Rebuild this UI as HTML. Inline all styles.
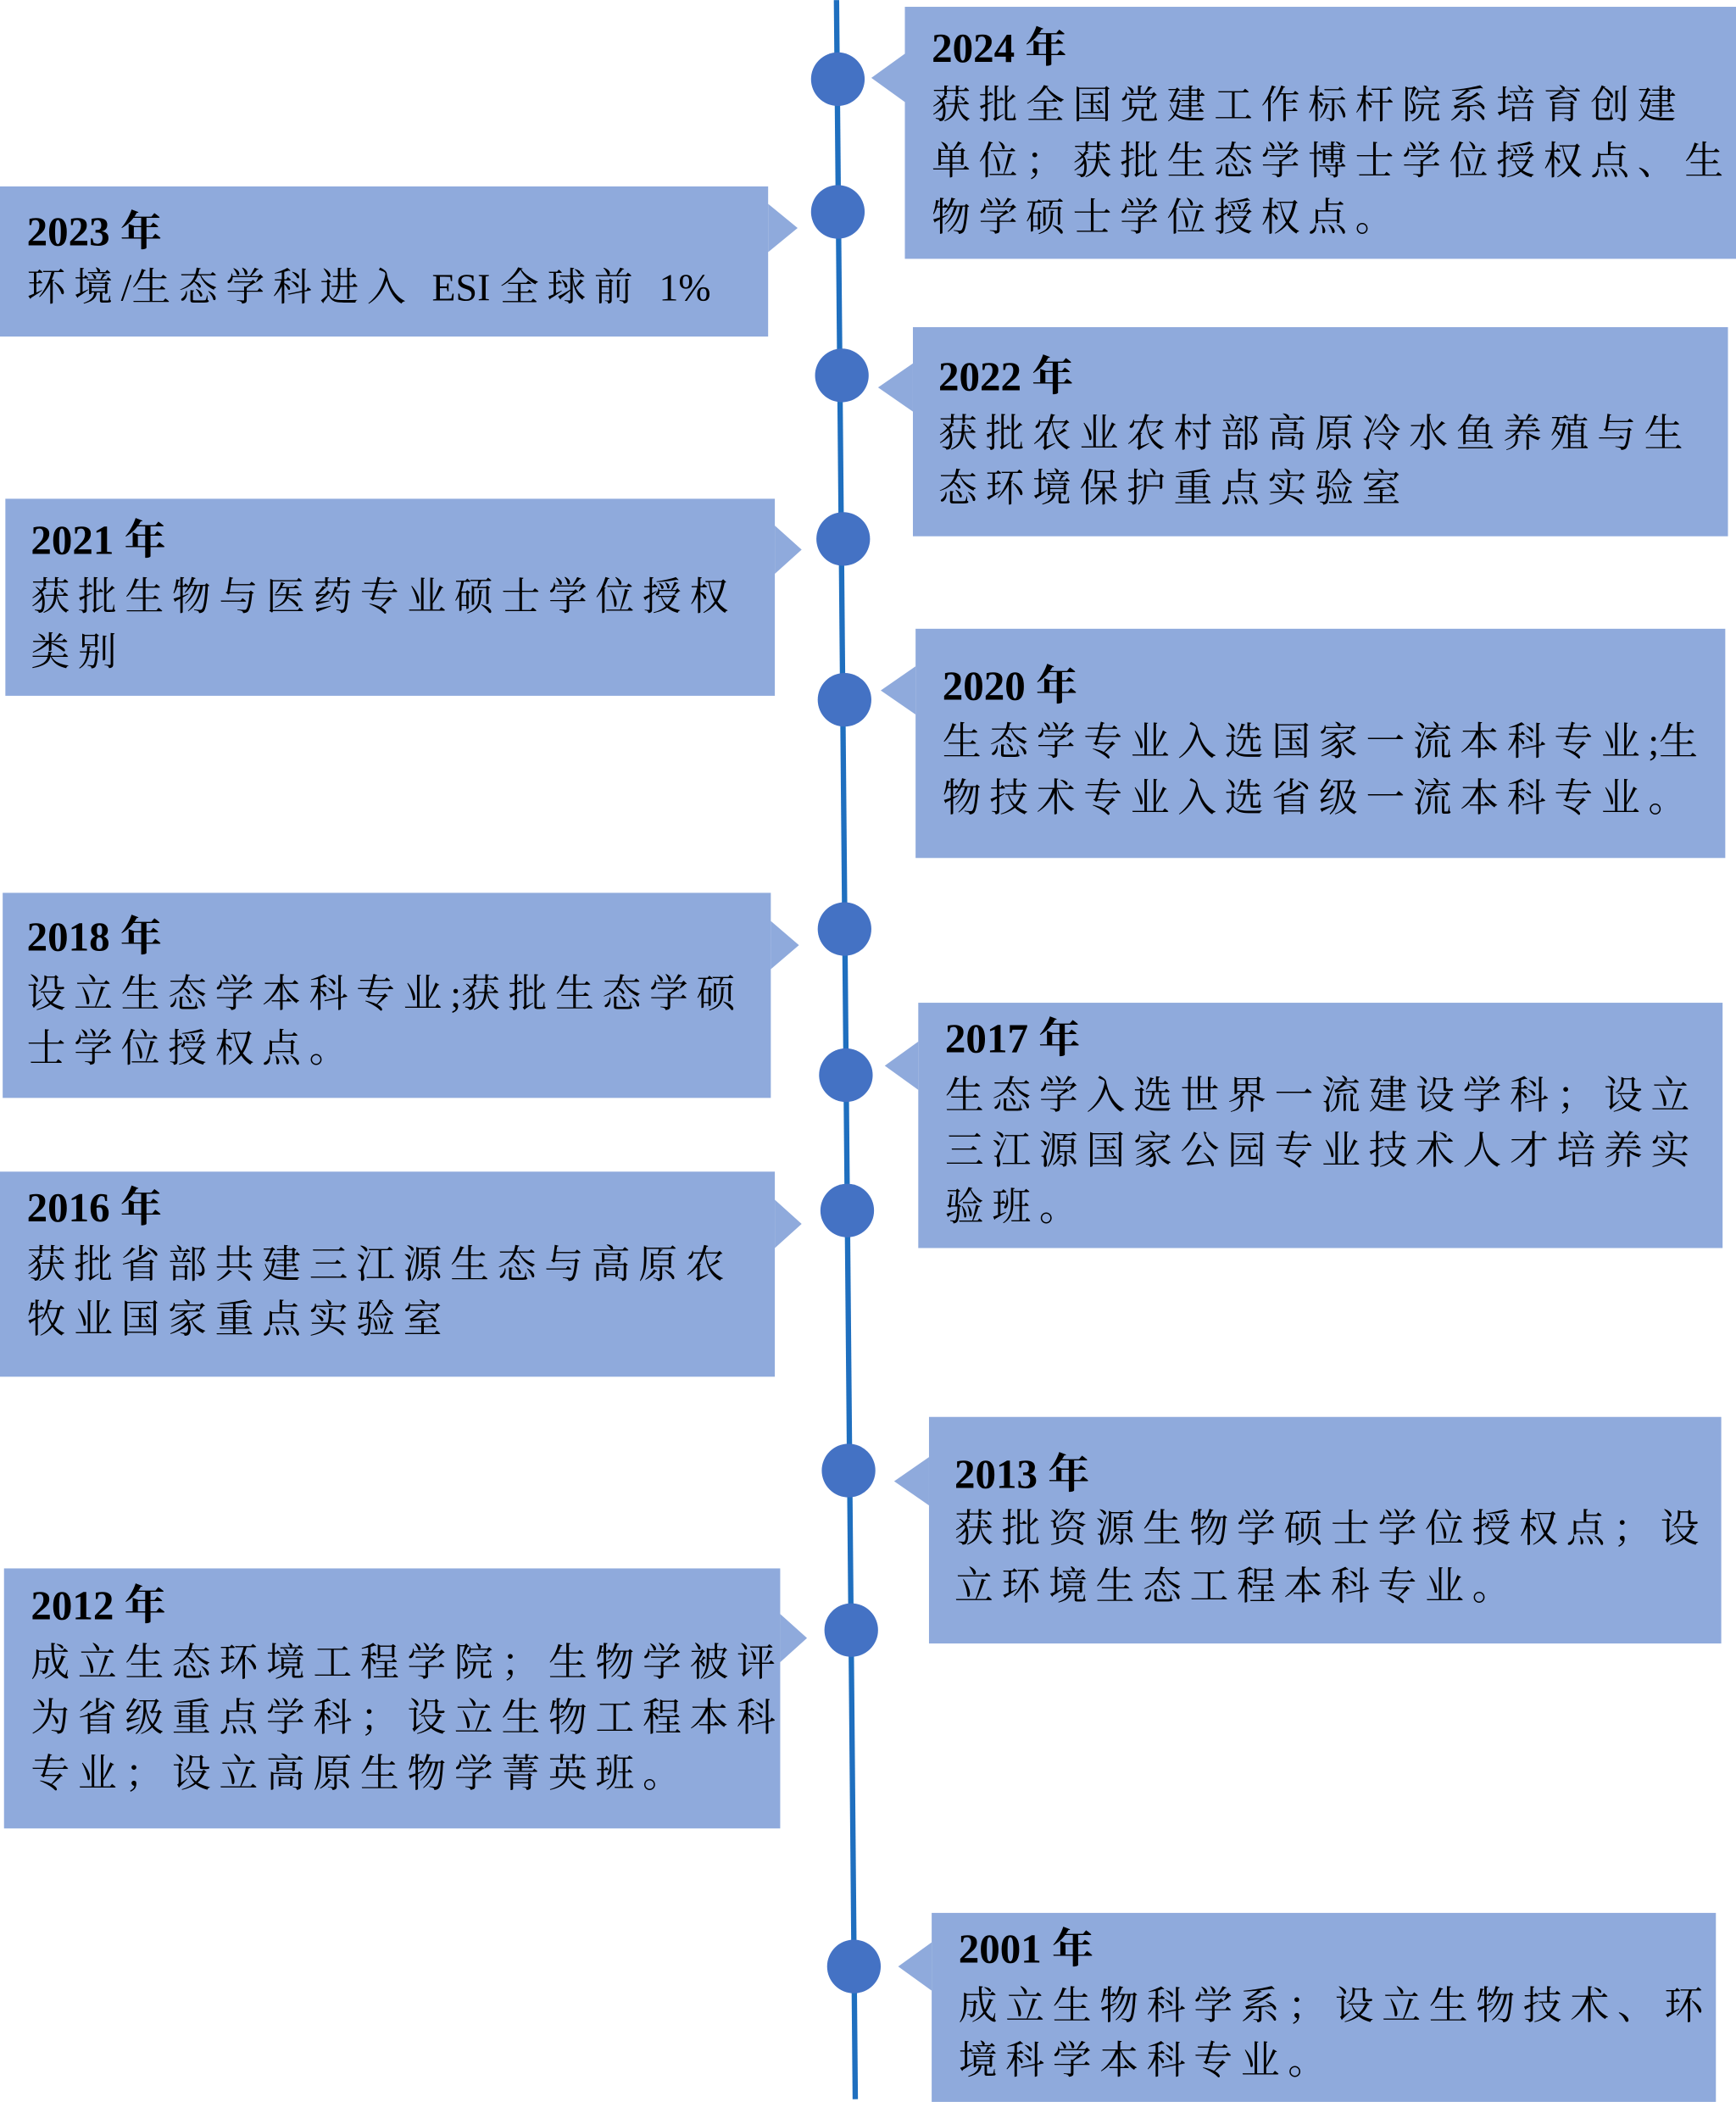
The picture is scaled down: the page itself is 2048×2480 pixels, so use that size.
<!DOCTYPE html>
<html><head><meta charset="utf-8"><style>
html,body{margin:0;padding:0;background:#fff;}
svg{display:block}
.y{font-family:"Liberation Serif","Noto Serif CJK SC",serif;font-weight:bold;font-size:31px;fill:#000}
.t{font-family:"Liberation Serif","Noto Serif CJK SC",serif;font-size:29px;letter-spacing:6.1px;fill:#000}
.l{letter-spacing:0px}
</style></head><body>
<svg width="2048" height="2480" viewBox="0 0 1295 1568" xmlns="http://www.w3.org/2000/svg">
<line x1="624" y1="0" x2="638" y2="1566" stroke="#1F6FBF" stroke-width="4"/>
<g fill="#8FAADC">
<rect x="675" y="5" width="620" height="188"/><polygon points="675,40 650,58 675,76"/>
<rect x="0" y="139" width="573" height="112"/><polygon points="573,152 595,170 573,188"/>
<rect x="681" y="244" width="608" height="156"/><polygon points="681,271 655,289 681,307"/>
<rect x="4" y="372" width="574" height="147"/><polygon points="578,392 598,410 578,428"/>
<rect x="683" y="469" width="604" height="171"/><polygon points="683,497 657,515 683,533"/>
<rect x="2" y="666" width="573" height="153"/><polygon points="575,687 596,705 575,723"/>
<rect x="685" y="748" width="600" height="183"/><polygon points="685,777 660,795 685,813"/>
<rect x="0" y="874" width="578" height="153"/><polygon points="578,895 598,913 578,931"/>
<rect x="693" y="1057" width="591" height="169"/><polygon points="693,1087 667,1105 693,1123"/>
<rect x="3" y="1170" width="579" height="194"/><polygon points="582,1204 602,1222 582,1240"/>
<rect x="695" y="1427" width="585" height="141"/><polygon points="695,1449 670,1467 695,1485"/>
</g>
<g fill="#4472C4">
<circle cx="625" cy="59" r="20"/><circle cx="625" cy="158" r="20"/><circle cx="628" cy="280" r="20"/>
<circle cx="629" cy="402" r="20"/><circle cx="630" cy="522" r="20"/><circle cx="630" cy="693" r="20"/>
<circle cx="631" cy="802" r="20"/><circle cx="632" cy="903" r="20"/><circle cx="633" cy="1097" r="20"/>
<circle cx="635" cy="1216" r="20"/><circle cx="637" cy="1467" r="20"/>
</g>
<text class="y" x="695" y="46">2024 年</text>
<text class="t" x="695" y="88">获批全国党建工作标杆院系培育创建</text>
<text class="t" x="695" y="130">单位；获批生态学博士学位授权点、生</text>
<text class="t" x="695" y="172">物学硕士学位授权点。</text>

<text class="y" x="20" y="183">2023 年</text>
<text class="t" x="20" y="224">环境<tspan class="l">/</tspan>生态学科进入 <tspan class="l">ESI </tspan>全球前 <tspan class="l">1%</tspan></text>

<text class="y" x="700" y="291">2022 年</text>
<text class="t" x="700" y="333">获批农业农村部高原冷水鱼养殖与生</text>
<text class="t" x="700" y="374">态环境保护重点实验室</text>

<text class="y" x="23" y="413">2021 年</text>
<text class="t" x="23" y="455">获批生物与医药专业硕士学位授权</text>
<text class="t" x="23" y="496">类别</text>

<text class="y" x="703" y="522">2020 年</text>
<text class="t" x="703" y="563">生态学专业入选国家一流本科专业<tspan class="l">;</tspan>生</text>
<text class="t" x="703" y="605">物技术专业入选省级一流本科专业。</text>

<text class="y" x="20" y="709">2018 年</text>
<text class="t" x="20" y="751">设立生态学本科专业<tspan class="l">;</tspan>获批生态学硕</text>
<text class="t" x="20" y="792">士学位授权点。</text>

<text class="y" x="705" y="785">2017 年</text>
<text class="t" x="705" y="827">生态学入选世界一流建设学科；设立</text>
<text class="t" x="705" y="868">三江源国家公园专业技术人才培养实</text>
<text class="t" x="705" y="910">验班。</text>

<text class="y" x="20" y="911">2016 年</text>
<text class="t" x="20" y="953">获批省部共建三江源生态与高原农</text>
<text class="t" x="20" y="994">牧业国家重点实验室</text>

<text class="y" x="712" y="1110">2013 年</text>
<text class="t" x="712" y="1150">获批资源生物学硕士学位授权点；设</text>
<text class="t" x="712" y="1193">立环境生态工程本科专业。</text>

<text class="y" x="23" y="1208">2012 年</text>
<text class="t" x="23" y="1250">成立生态环境工程学院；生物学被评</text>
<text class="t" x="23" y="1291">为省级重点学科；设立生物工程本科</text>
<text class="t" x="23" y="1333">专业；设立高原生物学菁英班。</text>

<text class="y" x="715" y="1464">2001 年</text>
<text class="t" x="715" y="1506">成立生物科学系；设立生物技术、环</text>
<text class="t" x="715" y="1547">境科学本科专业。</text>
</svg>
</body></html>
